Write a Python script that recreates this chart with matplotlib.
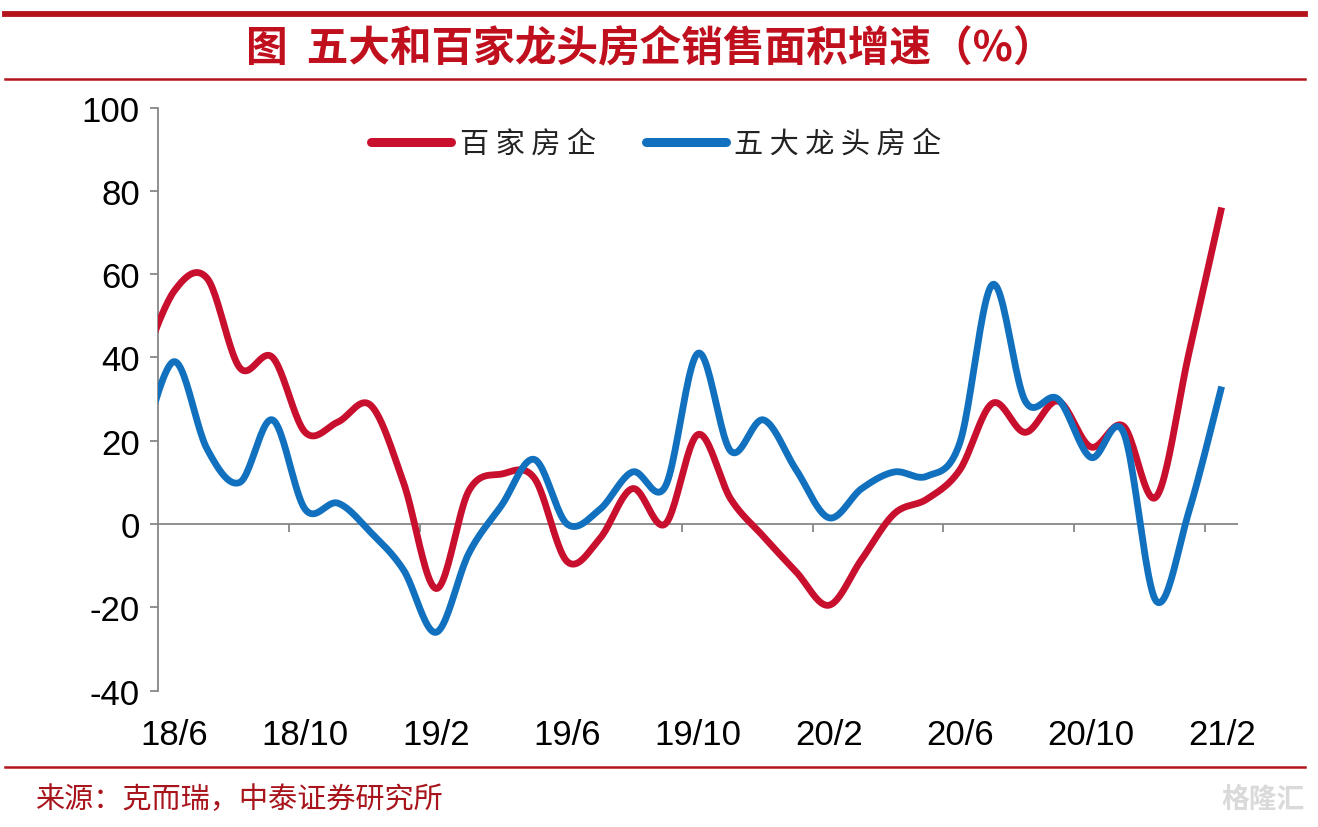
import numpy as np
import matplotlib
matplotlib.use('Agg')
import matplotlib.pyplot as plt
from matplotlib.lines import Line2D

# ---------------- data ----------------
months = ['18/5', '18/6', '18/7', '18/8', '18/9', '18/10', '18/11', '18/12',
          '19/1', '19/2', '19/3', '19/4', '19/5', '19/6', '19/7', '19/8',
          '19/9', '19/10', '19/11', '19/12', '20/1', '20/2', '20/3', '20/4',
          '20/5', '20/6', '20/7', '20/8', '20/9', '20/10', '20/11', '20/12',
          '21/1', '21/2']
red_top100 = [38, 56, 59, 37.5, 40, 22, 24.5, 28.5,
              10, -15.5, 8, 12, 11, -9, -3.5, 8.5,
              0, 21.5, 6, -3, -11.5, -19.5, -8.5, 2.5,
              6, 13, 29, 22, 29.5, 18.5, 23.5, 6.5,
              41, 76]
blue_top5 = [18, 39, 18, 10, 25, 3.5, 5, -2,
             -11, -26, -7, 4.5, 15.5, 0, 3.5, 12.5,
             9, 41, 17.5, 25, 13, 1.5, 8.5, 12.5,
             11.5, 19.5, 57.5, 29.5, 30, 16, 22, -18.5,
             3, 33]
series_names = ['百 家 房 企', '五 大 龙 头 房 企']
yticks = [-40, -20, 0, 20, 40, 60, 80, 100]

RED = '#C8102E'
BLUE = '#1171BE'
DARKRED = '#B4141C'
GRAY = '#878787'


def smooth(x, y, n=24):
    pts = np.column_stack([x, y]).astype(float)
    P = np.vstack([pts[0], pts, pts[-1]])
    out = []
    t = np.linspace(0, 1, n, endpoint=False)[:, None]
    for i in range(1, len(P) - 2):
        p0, p1, p2, p3 = P[i - 1], P[i], P[i + 1], P[i + 2]
        c1 = p1 + (p2 - p0) / 6.0
        c2 = p2 - (p3 - p1) / 6.0
        b = ((1 - t) ** 3) * p1 + 3 * ((1 - t) ** 2) * t * c1 + 3 * (1 - t) * t ** 2 * c2 + t ** 3 * p2
        out.append(b)
    out.append(pts[-1:])
    s = np.vstack(out)
    return s[:, 0], s[:, 1]


W, H = 1318, 828
fig = plt.figure(figsize=(W / 100, H / 100), dpi=100)
fig.patch.set_facecolor('white')

ax = fig.add_axes([158 / W, 1 - 691.6 / H, (1238 - 158) / W, (691.6 - 108.5) / H])
ax.set_facecolor('none')

x = np.arange(len(months)) - 1

for vals, col, name in [(red_top100, RED, series_names[0]), (blue_top5, BLUE, series_names[1])]:
    sx, sy = smooth(x, vals)
    ax.plot(sx, sy, color=col, lw=4.9, solid_capstyle='butt', solid_joinstyle='round', label=name, zorder=3)

ax.set_xlim(-0.5, 32.5)
ax.set_ylim(-40, 100)

# axes styling
for s in ['top', 'right', 'bottom']:
    ax.spines[s].set_visible(False)
ax.spines['left'].set_color(GRAY)
ax.spines['left'].set_linewidth(1.3)
ax.axhline(0, color=GRAY, lw=1.3, zorder=1)
tick_pos = np.arange(3.5, 32.5, 4)
ax.vlines(tick_pos, -1.9, 0, color=GRAY, lw=1.3, zorder=1)

ax.set_yticks(yticks)
ax.set_yticklabels([str(v) for v in yticks], fontfamily='Liberation Sans', fontsize=25)
ax.tick_params(axis='y', direction='out', length=6, width=1.3, color=GRAY, pad=7)

label_idx = list(range(0, 33, 4))
ax.set_xticks(label_idx)
ax.set_xticklabels([months[i + 1] for i in label_idx], fontfamily='Liberation Sans', fontsize=25)
ax.tick_params(axis='x', length=0, pad=20)

# legend
leg = ax.legend(loc='center left', bbox_to_anchor=(371 / W, 1 - 145 / H), bbox_transform=fig.transFigure,
                ncol=2, frameon=False, borderpad=0, borderaxespad=0, handlelength=2.75,
                handletextpad=0.3, columnspacing=1.7,
                prop={'family': ['Noto Sans CJK SC', 'DejaVu Sans'], 'size': 21, 'weight': 'light'})
for h in leg.get_lines():
    h.set_linewidth(6.5)
    h.set_solid_capstyle('round')
for t in leg.get_texts():
    t.set_color('#222222')

# decorations: title, rules, source
fig.add_artist(Line2D([5 / W, 1305 / W], [1 - 15 / H, 1 - 15 / H], color=DARKRED, lw=4.2))
fig.add_artist(Line2D([5 / W, 1305 / W], [1 - 80 / H, 1 - 80 / H], color=DARKRED, lw=1.8))
fig.add_artist(Line2D([5 / W, 1305 / W], [1 - 768 / H, 1 - 768 / H], color=DARKRED, lw=1.8))

fig.text(650 / W, 1 - 48 / H, '图  五大和百家龙头房企销售面积增速（%）',
         family=['Noto Sans CJK SC', 'DejaVu Sans'], fontsize=30, fontweight='bold',
         color='#C0101E', ha='center', va='center')
fig.text(35 / W, 1 - 800 / H, '来源：克而瑞，中泰证券研究所',
         family=['Noto Sans CJK SC', 'DejaVu Sans'], fontsize=21,
         color='#A8141C', ha='left', va='center')
fig.text(1305 / W, 1 - 800 / H, '格隆汇', family=['Noto Sans CJK SC', 'DejaVu Sans'],
         fontsize=20, fontweight='bold', color='#DADADA', ha='right', va='center')

fig.savefig('out.png', dpi=100, facecolor='white')
